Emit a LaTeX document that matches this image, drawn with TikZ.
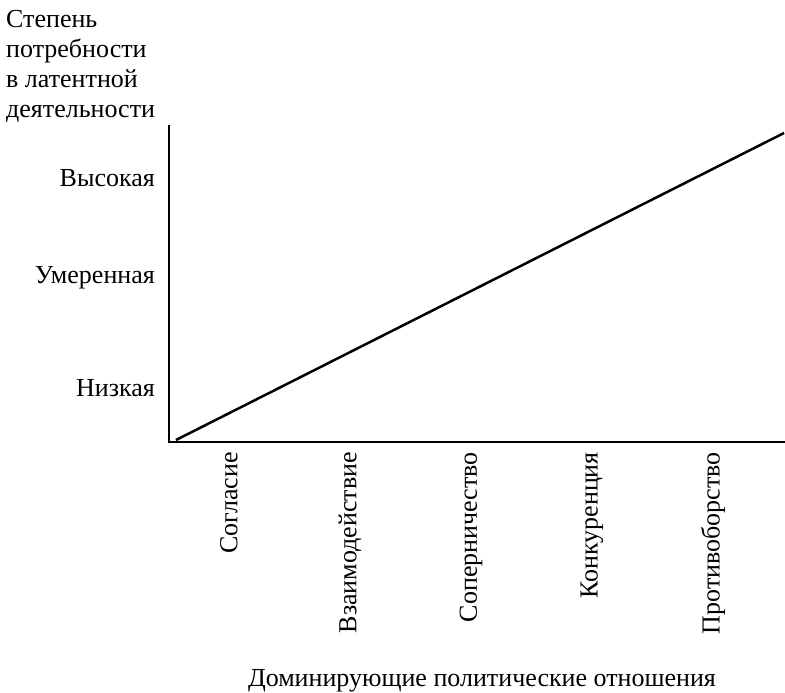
\documentclass[tikz,border=0pt]{standalone}
\usepackage{fontspec}
\setmainfont{Liberation Serif}
\usetikzlibrary{positioning}

\begin{document}
\begin{tikzpicture}[x=1pt,y=-1pt,font=\fontsize{26}{30}\selectfont,
    axis/.style={line width=2.5pt},
    level/.style={anchor=east,inner sep=0pt},
    rel/.style={rotate=90,anchor=east,inner sep=0pt}]
  \useasboundingbox (0,0) rectangle (785,693);

  \coordinate (o)    at (169,442);
  \coordinate (ytop) at (169,125);
  \coordinate (xend) at (785,442);
  \coordinate (lo)   at (176,440);
  \coordinate (hi)   at (784,133);

  \draw[axis] (ytop) -- (o) -- (xend);
  \draw[axis] (lo) -- (hi);

  \node[anchor=north west,align=left,inner sep=0pt] (ylabel) at (6,10)
        {Степень\\потребности\\в латентной\\деятельности};

  \node[level] (high) at (155,178) {Высокая};
  \node[level] (mid)  at (155,278) {Умеренная};
  \node[level] (low)  at (155,388) {Низкая};

  \foreach \name/\txt [count=\i from 0] in
      {agree/Согласие, inter/Взаимодействие, rival/Соперничество,
       compet/Конкуренция, oppos/Противоборство}
    \node[rel] (\name) at (229+121*\i,452) {\txt};

  \node (xlabel) at (482,681) {Доминирующие политические отношения};
\end{tikzpicture}
\end{document}
